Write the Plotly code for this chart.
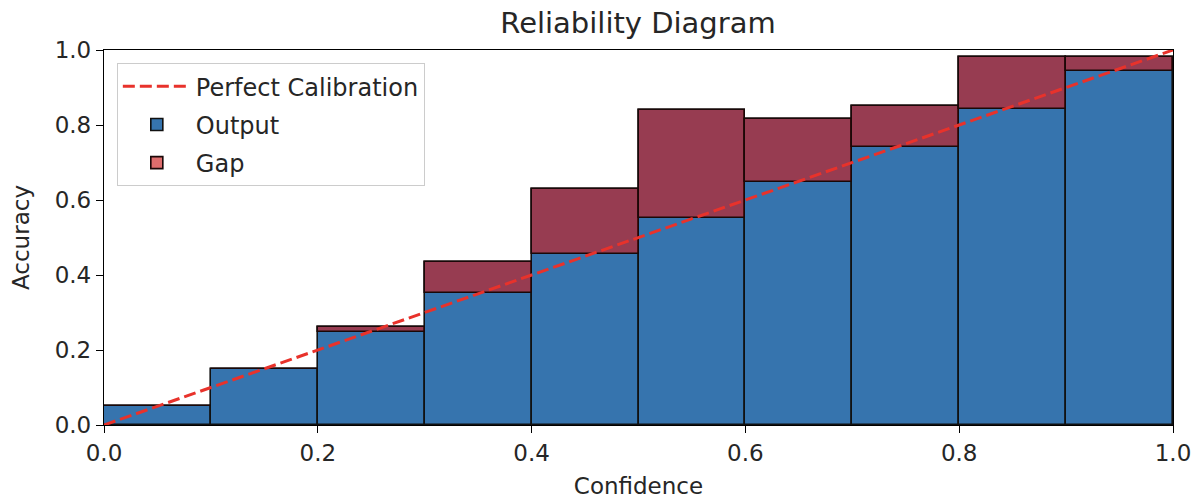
import plotly.graph_objects as go

# Data
bin_lower = [0.0, 0.1, 0.2, 0.3, 0.4, 0.5, 0.6, 0.7, 0.8, 0.9]
bin_width = 0.1
output = [0.050, 0.150, 0.247, 0.352, 0.455, 0.553, 0.648, 0.742, 0.844, 0.943]
accuracy_top = [0.052, 0.150, 0.262, 0.436, 0.629, 0.841, 0.817, 0.850, 0.982, 0.982]
diag_x = [0.0, 1.0]
diag_y = [0.0, 1.0]
x_ticks = [0.0, 0.2, 0.4, 0.6, 0.8, 1.0]
y_ticks = [0.0, 0.2, 0.4, 0.6, 0.8, 1.0]

centers = [b + bin_width / 2 for b in bin_lower]
gap = [max(t - o, 0.0) for t, o in zip(accuracy_top, output)]
widths = [bin_width] * len(centers)

FONT = "DejaVu Sans"
BLUE = "#3674ae"
TXT = "#262626"

fig = go.Figure()

fig.add_trace(go.Bar(
    x=centers, y=accuracy_top, width=widths, name="Output",
    marker=dict(color=BLUE, line=dict(color="#111111", width=1.6)),
    legendrank=2, legendgroup="b",
))
fig.add_trace(go.Bar(
    x=centers, y=gap, base=output, width=widths, name="Gap",
    marker=dict(color="rgba(205,30,30,0.65)", line=dict(color="#1a0808", width=1.6)),
    legendrank=3, legendgroup="c",
))
fig.add_trace(go.Scatter(
    x=diag_x, y=diag_y, mode="lines", name="Perfect Calibration",
    line=dict(color="#e8322b", width=3, dash="12px,5px"),
    legendrank=1, legendgroup="a",
))

axis_common = dict(
    showline=True, linecolor="black", linewidth=1.3, mirror=True,
    ticks="outside", ticklen=7, tickwidth=1.3, tickcolor="black",
    showgrid=False, zeroline=False, automargin=False,
    tickfont=dict(family=FONT, size=23, color=TXT),
)

fig.update_layout(
    width=1197, height=499,
    paper_bgcolor="white", plot_bgcolor="white",
    barmode="overlay", bargap=0,
    margin=dict(l=104, r=24, t=50, b=74, autoexpand=False),
    title=dict(text="Reliability Diagram", x=0.533, xanchor="center", y=0.955, yanchor="middle",
               font=dict(family=FONT, size=29, color=TXT)),
    xaxis=dict(range=[0, 1], tickvals=x_ticks, ticktext=[f"{v:.1f}" for v in x_ticks],
               title=dict(text="Confidence", font=dict(family=FONT, size=23, color=TXT), standoff=13),
               **axis_common),
    yaxis=dict(range=[0, 1], tickvals=y_ticks, ticktext=[f"{v:.1f}" for v in y_ticks],
               title=dict(text="Accuracy", font=dict(family=FONT, size=23, color=TXT), standoff=18),
               **axis_common),
    legend=dict(x=0.012, y=0.965, xanchor="left", yanchor="top",
                bgcolor="rgba(255,255,255,0.85)", bordercolor="#cccccc", borderwidth=1,
                font=dict(family=FONT, size=24, color=TXT),
                traceorder="grouped", tracegroupgap=4, itemwidth=68),
    showlegend=True,
)

fig.write_html("out.html", config={"displayModeBar": False},
               post_script="document.body.style.margin='0';document.body.style.overflow='hidden';")
